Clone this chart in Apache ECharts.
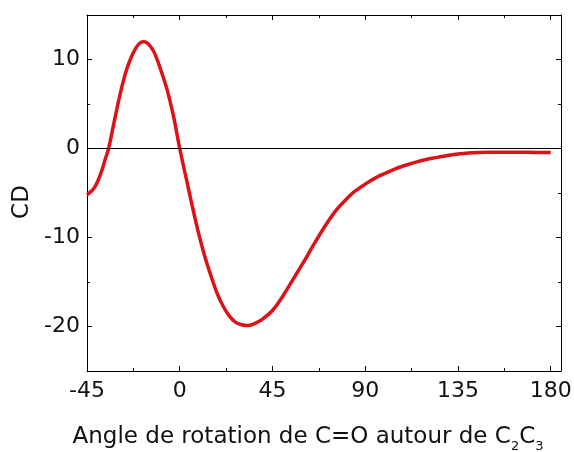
<!DOCTYPE html>
<html>
<head>
<meta charset="utf-8">
<script src="https://cdn.jsdelivr.net/npm/echarts@6/dist/echarts.min.js"></script>
<style>
  html, body { margin: 0; padding: 0; background: #fff; }
  #cd-chart { width: 574px; height: 452px; }
</style>
</head>
<body>
<div id="cd-chart"></div>
<script>
// angle (deg) and CD values
var angles = [-45, -42, -40, -38, -36, -34.5, -32, -30, -28, -26, -24, -22, -20, -18, -16, -14, -12, -9, -6, -3,
              0, 3, 6, 9, 12, 15, 18, 21, 24, 27, 30, 33, 36, 40, 45, 50, 55, 60, 65, 70, 75, 80, 85, 90,
              95, 100, 105, 110, 115, 120, 125, 130, 135, 140, 145, 150, 160, 170, 180];
var cdValues = [-5.2, -4.6, -3.8, -2.6, -1.1, 0, 2.8, 5.0, 7.0, 8.7, 10.0, 11.0, 11.7, 12.0, 11.9, 11.4, 10.6, 8.7, 6.5, 3.6,
                0, -3.2, -6.4, -9.4, -12.0, -14.2, -16.2, -17.7, -18.8, -19.5, -19.8, -19.9, -19.7, -19.2, -18.2, -16.6, -14.7, -12.8, -10.8, -8.9, -7.2, -5.9, -4.8, -4.0,
                -3.3, -2.75, -2.25, -1.85, -1.5, -1.2, -1.0, -0.78, -0.62, -0.5, -0.44, -0.42, -0.42, -0.43, -0.45];

var xTicks = [-45, 0, 45, 90, 135, 180];
var yTicks = [-20, -10, 0, 10];
var yMinorTicks = [-15, -5, 5];

var curve = [];
for (var i = 0; i < angles.length; i++) {
    curve.push([angles[i], cdValues[i]]);
}

var chart = echarts.init(document.getElementById('cd-chart'));

var fontName = 'DejaVu Sans';
var txt = '#111';

var lineBlack = { color: '#000', width: 1 };

function xAxisDef(pos, withLabels) {
    return {
        type: 'value',
        min: -45,
        max: 185,
        interval: 45,
        position: pos,
        axisLine: { show: true, onZero: false, lineStyle: lineBlack },
        axisTick: { show: true, inside: true, length: 5, lineStyle: lineBlack },
        minorTick: { show: true, splitNumber: 2, length: 3, lineStyle: lineBlack },
        splitLine: { show: false },
        axisLabel: withLabels ? {
            margin: 9,
            fontFamily: fontName,
            fontSize: 22,
            color: txt,
            formatter: function (v) { return xTicks.indexOf(v) >= 0 ? String(v) : ''; }
        } : { show: false }
    };
}

function yAxisDef(pos, ticks, len, withLabels, withLine) {
    return {
        type: 'value',
        min: -25,
        max: 15,
        position: pos,
        axisLine: { show: withLine, onZero: false, lineStyle: lineBlack },
        axisTick: { show: true, inside: true, length: len, customValues: ticks, lineStyle: lineBlack },
        splitLine: { show: false },
        axisLabel: withLabels ? {
            margin: 7,
            fontFamily: fontName,
            fontSize: 22,
            color: txt,
            customValues: ticks
        } : { show: false }
    };
}

var xMain = xAxisDef('bottom', true);
xMain.name = '{m|Angle de rotation de C=O autour de C}{s|2}{m|C}{s|3}';
xMain.nameLocation = 'middle';
xMain.nameGap = 50;
xMain.nameTextStyle = {
    padding: [0, 32, 0, 0],
    rich: {
        m: { fontFamily: fontName, fontSize: 23, color: txt, lineHeight: 32, verticalAlign: 'middle' },
        s: { fontFamily: fontName, fontSize: 13, color: txt, lineHeight: 12, verticalAlign: 'bottom' }
    }
};

var yMain = yAxisDef('left', yTicks, 5, true, true);
yMain.name = 'CD';
yMain.nameLocation = 'middle';
yMain.nameGap = 50;
yMain.nameTextStyle = { fontFamily: fontName, fontSize: 23, color: txt, padding: [0, 18, 0, 0] };

var option = {
    animation: false,
    backgroundColor: '#fff',
    grid: { left: 87, right: 13, top: 15, bottom: 81, outerBoundsMode: 'none' },
    xAxis: [xMain, xAxisDef('top', false)],
    yAxis: [
        yMain,
        yAxisDef('right', yTicks, 5, false, true),
        yAxisDef('left', yMinorTicks, 3, false, false),
        yAxisDef('right', yMinorTicks, 3, false, false)
    ],
    series: [
        {
            type: 'line',
            data: curve,
            smooth: 0.3,
            symbol: 'none',
            lineStyle: { color: '#dd1219', width: 3.5 },
            markLine: {
                silent: true,
                symbol: 'none',
                label: { show: false },
                lineStyle: { color: '#000', width: 1, type: 'solid' },
                data: [{ yAxis: 0 }]
            },
            z: 3
        }
    ]
};

chart.setOption(option);
</script>
</body>
</html>
